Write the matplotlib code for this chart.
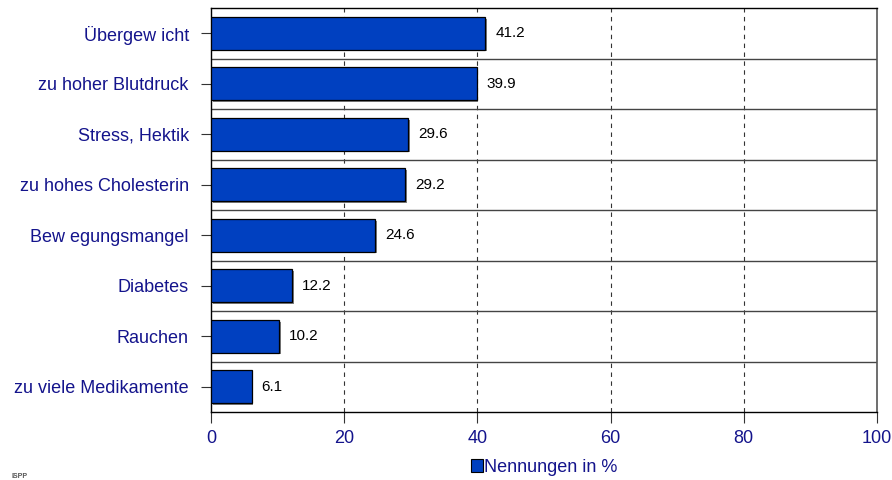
import matplotlib
matplotlib.use("Agg")
import matplotlib.pyplot as plt
import matplotlib.patheffects as pe
from matplotlib.patches import Patch

categories = ["Übergew icht", "zu hoher Blutdruck", "Stress, Hektik",
              "zu hohes Cholesterin", "Bew egungsmangel", "Diabetes",
              "Rauchen", "zu viele Medikamente"]
values = [41.2, 39.9, 29.6, 29.2, 24.6, 12.2, 10.2, 6.1]
x_ticks = [0, 20, 40, 60, 80, 100]
legend_label = "Nennungen in %"

bar_color = "#0040C0"
navy = "#14148C"

plt.rcParams["font.family"] = ["Liberation Sans", "DejaVu Sans"]

fig = plt.figure(figsize=(8.92, 4.8), dpi=100)
ax = fig.add_axes([211 / 892, 1 - 412 / 480, (877 - 211) / 892, (412 - 8) / 480])

n = len(categories)
ypos = list(range(n))

bars = ax.barh(ypos, values, height=0.65, color=bar_color, edgecolor="black",
               linewidth=0.9, zorder=3)
for b in bars:
    b.set_path_effects([pe.SimplePatchShadow(offset=(1.2, -1.2), shadow_rgbFace="#808080", alpha=1.0),
                        pe.Normal()])

for y, v in zip(ypos, values):
    ax.text(v + 1.5, y, f"{v:.1f}", va="center", ha="left", fontsize=11, color="black", zorder=4)

ax.set_ylim(n - 0.5, -0.5)
ax.set_xlim(0, 100)

# separators between category rows
for k in range(1, n):
    ax.axhline(k - 0.5, color="#444444", linewidth=1.0, zorder=2)

# dashed vertical grid
for t in x_ticks[1:-1]:
    ax.axvline(t, color="#333333", linewidth=0.8, linestyle=(0, (4, 4)), zorder=1)

ax.set_yticks(ypos)
ax.set_yticklabels(categories, fontsize=13, color=navy)
ax.set_xticks(x_ticks)
ax.set_xticklabels([str(t) for t in x_ticks], fontsize=13, color=navy)
ax.tick_params(axis="y", direction="out", length=7, width=0.8, color="#333333", pad=9)
ax.tick_params(axis="x", direction="out", length=8, width=0.8, color="#333333", pad=5)

for side in ["top", "bottom", "left"]:
    ax.spines[side].set_color("black")
    ax.spines[side].set_linewidth(1.0)
ax.spines["right"].set_color("#555555")
ax.spines["right"].set_linestyle((0, (2, 1)))
ax.spines["right"].set_linewidth(1.2)

handle = Patch(facecolor=bar_color, edgecolor="black", linewidth=0.8)
leg = fig.legend([handle], [legend_label], loc="center", bbox_to_anchor=(544 / 892, 1 - 467 / 480),
                 frameon=False, fontsize=13, handlelength=0.7, handleheight=0.7,
                 handletextpad=0.05, borderpad=0)
for t in leg.get_texts():
    t.set_color(navy)

fig.text(12 / 892, 1 - 476 / 480, "ISPP", fontsize=5, color="#555555", weight="bold", va="center")

fig.savefig("out.png", dpi=100)
